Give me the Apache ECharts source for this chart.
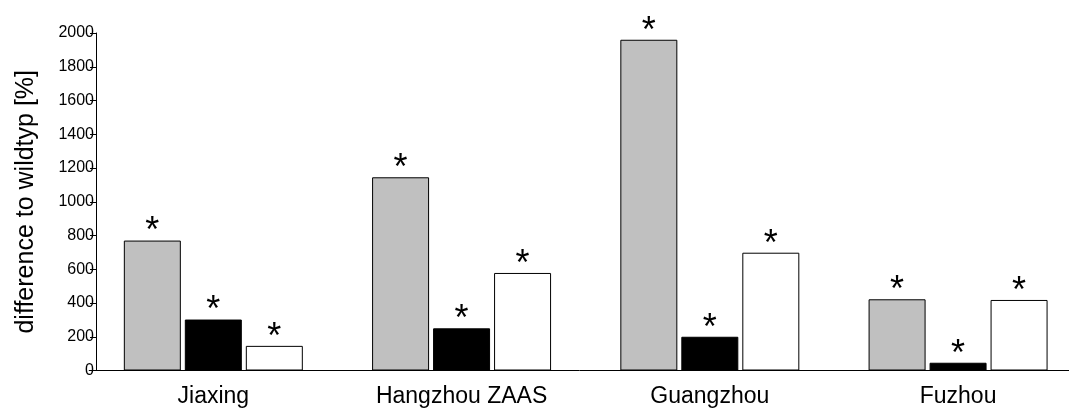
<!DOCTYPE html>
<html>
<head>
<meta charset="utf-8">
<script src="https://cdn.jsdelivr.net/npm/echarts@6/dist/echarts.min.js"></script>
<style>html,body{margin:0;padding:0;background:#fff;}#c{width:1069px;height:410px;}</style>
</head>
<body>
<div id="c"></div>
<script>
const categories = ['Jiaxing', 'Hangzhou ZAAS', 'Guangzhou', 'Fuzhou'];
const seriesGray = [770, 1145, 1960, 422];
const seriesBlack = [302, 250, 200, 46];
const seriesWhite = [146, 578, 698, 418];
const significance = [['*','*','*'],['*','*','*'],['*','*','*'],['*','*','*']];
const yTicks = [0, 2000, 200];

const font = 'Liberation Sans, Arial, sans-serif';
const chart = echarts.init(document.getElementById('c'));

function mk(name, data, color, idx) {
  return {
    name: name, type: 'bar', data: data, barWidth: 57, barGap: '7%',
    itemStyle: { color: color, borderColor: '#000', borderWidth: 1 },
    label: {
      show: true, position: 'top', distance: -10,
      formatter: (p) => significance[p.dataIndex][idx],
      fontSize: 36, color: '#000', fontFamily: font
    },
    animation: false
  };
}

chart.setOption({
  animation: false,
  grid: { left: 89.2, width: 993, top: 33, bottom: 39.5, containLabel: false, outerBoundsMode: 'none' },
  xAxis: {
    type: 'category', data: categories,
    axisLine: { lineStyle: { color: '#000', width: 1 } },
    axisTick: { show: false },
    axisLabel: { fontSize: 23, color: '#000', fontFamily: font, margin: 15 }
  },
  yAxis: {
    type: 'value', min: yTicks[0], max: yTicks[1], interval: yTicks[2],
    offset: -6.8,
    name: 'difference to wildtyp [%]', nameLocation: 'middle', nameGap: 57,
    nameTextStyle: { fontSize: 25, color: '#000', fontFamily: font },
    axisLine: { show: true, lineStyle: { color: '#000', width: 1 } },
    axisTick: { show: true, length: 6, lineStyle: { color: '#000' } },
    axisLabel: { fontSize: 16, color: '#000', fontFamily: font, margin: 2,
      formatter: (v) => String(v) },
    splitLine: { show: false }
  },
  series: [
    mk('gray', seriesGray, '#c0c0c0', 0),
    mk('black', seriesBlack, '#000000', 1),
    mk('white', seriesWhite, '#ffffff', 2)
  ]
});
</script>
</body>
</html>
